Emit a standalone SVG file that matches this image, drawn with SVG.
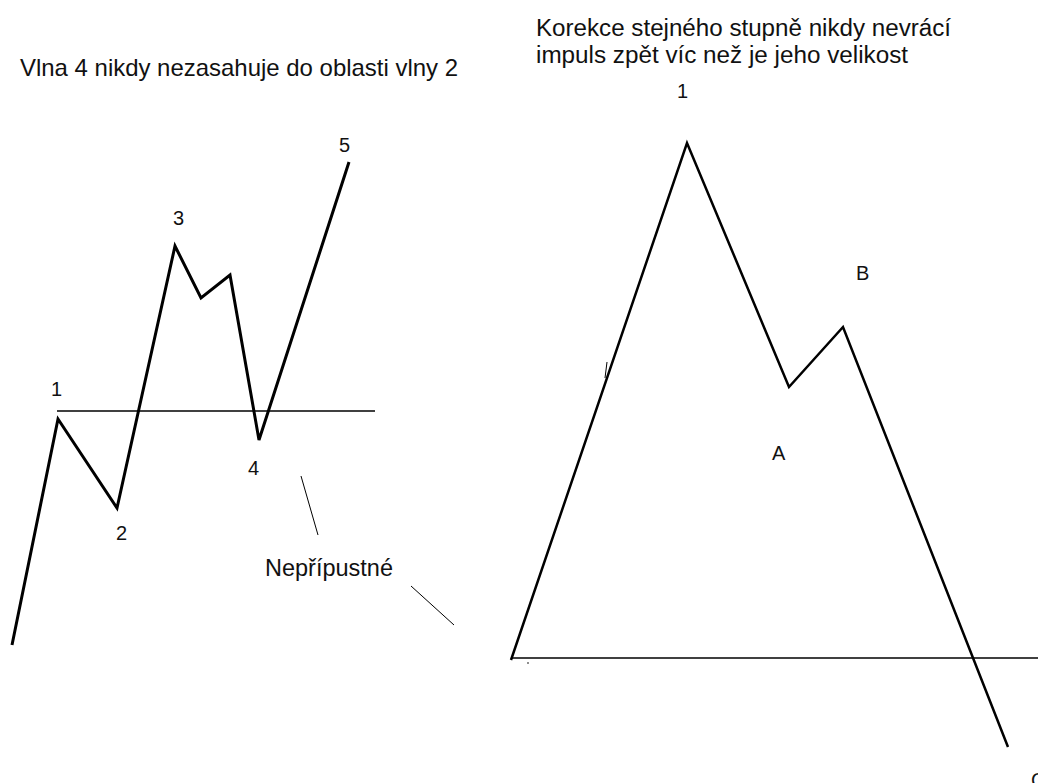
<svg xmlns="http://www.w3.org/2000/svg" width="1038" height="783" viewBox="0 0 1038 783">
<style>
text{font-family:"Liberation Sans",Arial,sans-serif;fill:#111;font-size:23px}
.lbl{font-size:20px}
.big{font-size:24px}
.wave{fill:none;stroke:#000;stroke-width:3;stroke-linejoin:miter}
.wave2{fill:none;stroke:#000;stroke-width:2.5}
.ref{stroke:#000;stroke-width:1.5}
.thin{stroke:#000;stroke-width:1}
</style>
<rect width="1038" height="783" fill="#fff"/>
<g id="title-left"><text class="big" x="20" y="76" textLength="438" lengthAdjust="spacingAndGlyphs">Vlna 4 nikdy nezasahuje do oblasti vlny 2</text></g>
<g id="title-right"><text x="536" y="36" textLength="415" lengthAdjust="spacingAndGlyphs">Korekce stejného stupně nikdy nevrácí</text><text x="536" y="63" textLength="372" lengthAdjust="spacingAndGlyphs">impuls zpět víc než je jeho velikost</text></g>
<g id="connectors">
<line class="ref" x1="57" y1="411" x2="375" y2="411"/>
<polyline class="wave" points="12,645 58,419 117,508 175,246 201,298 230,275 259,440 349,162"/>
<line class="thin" x1="301" y1="476" x2="318" y2="535"/>
<line class="thin" x1="411" y1="586" x2="454" y2="625"/>
<line class="ref" x1="511" y1="658" x2="1038" y2="658"/>
<polyline class="wave2" points="511,660 687,143 789,387 843,327 1008,747"/>
<line class="thin" x1="607" y1="362" x2="605" y2="378"/>
<circle cx="528" cy="663" r="0.8" fill="#000"/>
</g>
<g id="labels-left">
<text class="lbl" x="51" y="396">1</text>
<text class="lbl" x="116" y="540">2</text>
<text class="lbl" x="173" y="225">3</text>
<text class="lbl" x="248" y="475">4</text>
<text class="lbl" x="339" y="152">5</text>
<text x="265" y="576" textLength="128" lengthAdjust="spacingAndGlyphs">Nepřípustné</text>
</g>
<g id="labels-right">
<text class="lbl" x="677" y="98">1</text>
<text class="lbl" x="856" y="280">B</text>
<text class="lbl" x="772" y="460">A</text>
<text class="lbl" x="1031" y="787">C</text>
</g>
</svg>
